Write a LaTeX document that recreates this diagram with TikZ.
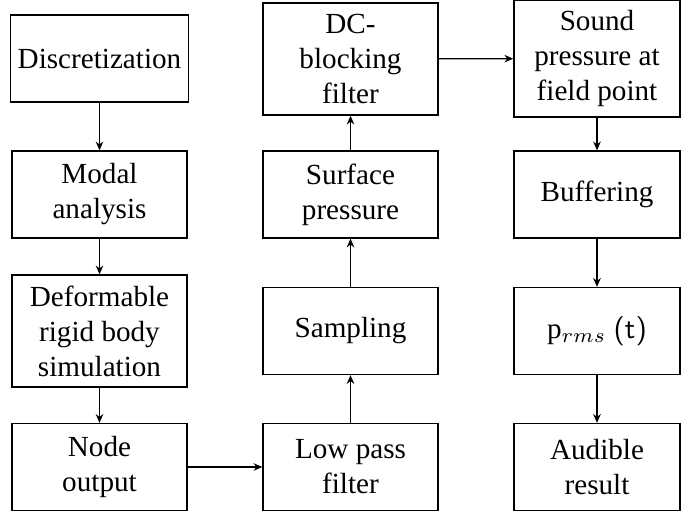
\documentclass[tikz,border=0pt]{standalone}
\usepackage{fontspec}
\setmainfont{Liberation Serif}
\usepackage{amsmath}
\usetikzlibrary{arrows.meta, positioning}

\begin{document}
\begin{tikzpicture}[x=0.343pt, y=-0.343pt,
    block/.style={draw, line width=0.5pt, align=center, font=\fontsize{10}{12}\selectfont, inner sep=2pt, minimum width=60pt, minimum height=29.8pt},
    tall/.style={minimum height=38.4pt},
    flow/.style={-{Stealth[length=3pt, width=2.6pt]}, line width=0.4pt}]
    \useasboundingbox (0,0) rectangle (681,512);

    % left column
    \node[block, minimum width=61pt] (disc) at (99.5,58.5) {Discretization};
    \node[block] (modal) at (99.5,194.5) {Modal\\analysis};
    \node[block, tall] (deform) at (99.5,331) {Deformable\\rigid body\\simulation};
    \node[block] (nodeout) at (99.5,467) {Node\\output};

    % middle column
    \node[block, tall] (dcblock) at (350.5,59) {DC-\\blocking\\filter};
    \node[block] (surface) at (350.5,194.5) {Surface\\pressure};
    \node[block] (sampling) at (350.5,331) {Sampling};
    \node[block] (lowpass) at (350.5,467) {Low pass\\filter};

    % right column
    \node[block, minimum width=57pt, minimum height=40pt] (sound) at (597,58.5) {Sound\\pressure at\\field point};
    \node[block, minimum width=57pt] (buffer) at (597,194.5) {Buffering};
    \node[block, minimum width=57pt] (prms) at (597,331) {$\mathrm{p}_{rms}$ \textsf{(t)}};
    \node[block, minimum width=57pt] (audible) at (597,467) {Audible\\result};

    % connectors
    \draw[flow] (disc) -- (modal);
    \draw[flow] (modal) -- (deform);
    \draw[flow] (deform) -- (nodeout);
    \draw[flow] (nodeout) -- (lowpass);
    \draw[flow] (lowpass) -- (sampling);
    \draw[flow] (sampling) -- (surface);
    \draw[flow] (surface) -- (dcblock);
    \draw[flow] (dcblock) -- (sound);
    \draw[flow] (sound) -- (buffer);
    \draw[flow] (buffer) -- (prms);
    \draw[flow] (prms) -- (audible);
\end{tikzpicture}
\end{document}
